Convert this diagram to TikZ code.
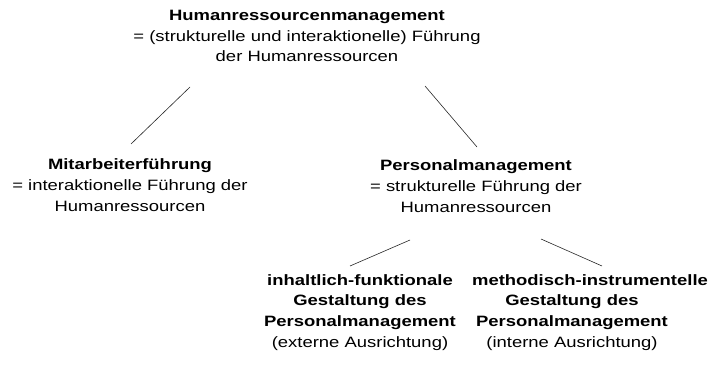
\documentclass[tikz,border=0pt]{standalone}
\usepackage{fontspec}
\setmainfont[FakeStretch=1.23]{Liberation Sans}
\begin{document}
\begin{tikzpicture}[x=1pt,y=-1pt,
  lbl/.style={align=center,inner sep=0pt,anchor=base,
    font=\fontsize{15}{20.6}\selectfont},
  conn/.style={line width=0.6pt,black!85}]
\useasboundingbox (0,0) rectangle (727,369);
\node[lbl] (hrm) at (307,62) {\textbf{Humanressourcenmanagement}\\= (strukturelle und interaktionelle) Führung\\der Humanressourcen};
\node[lbl] (mf) at (130,211) {\textbf{Mitarbeiterführung}\\= interaktionelle Führung der\\Humanressourcen};
\node[lbl] (pm) at (476,212) {\textbf{Personalmanagement}\\= strukturelle Führung der\\Humanressourcen};
\node[lbl] (ifg) at (360,347) {\textbf{inhaltlich-funktionale}\\\textbf{Gestaltung des}\hspace*{12pt}\\\textbf{Personalmanagement}\\(externe Ausrichtung)};
\node[lbl] (mig) at (572,347) {\hspace*{36pt}\textbf{methodisch-instrumentelle}\\\textbf{Gestaltung des}\\\textbf{Personalmanagement}\\(interne Ausrichtung)};
\coordinate (a1) at (190,87); \coordinate (a2) at (131,144);
\coordinate (b1) at (425,86); \coordinate (b2) at (477,147);
\coordinate (c1) at (410,240); \coordinate (c2) at (350,266);
\coordinate (d1) at (541,239); \coordinate (d2) at (602,266);
\draw[conn] (a1) -- (a2);
\draw[conn] (b1) -- (b2);
\draw[conn] (c1) -- (c2);
\draw[conn] (d1) -- (d2);
\end{tikzpicture}
\end{document}
